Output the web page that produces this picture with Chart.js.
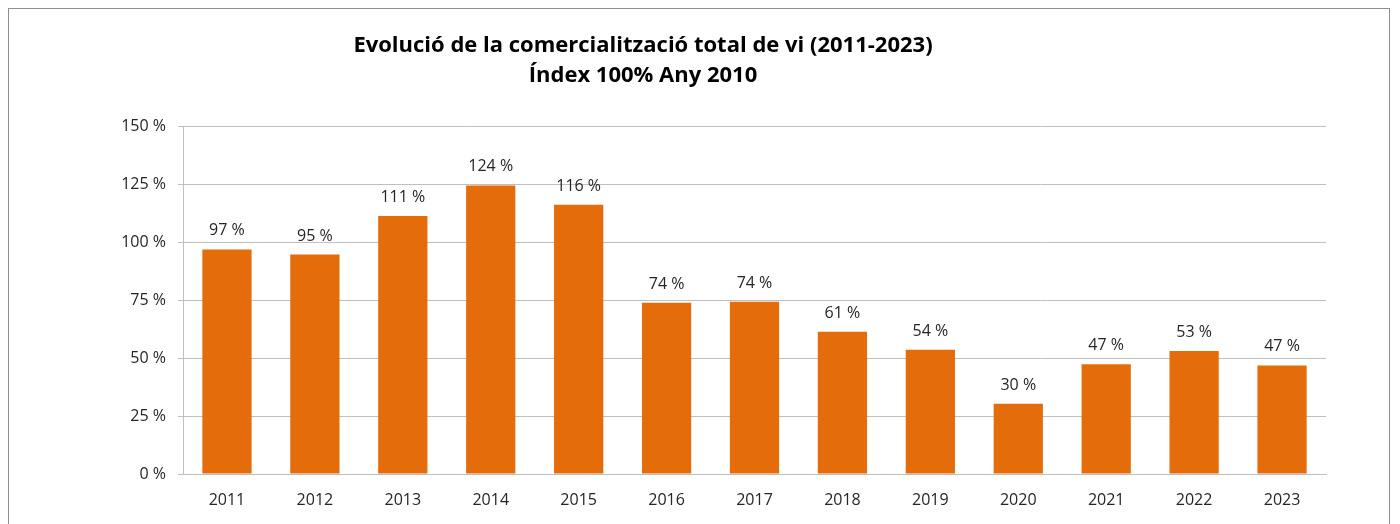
<!DOCTYPE html>
<html>
<head>
<meta charset="utf-8">
<script src="https://cdn.jsdelivr.net/npm/chart.js@4/dist/chart.umd.min.js"></script>
<style>
  html, body { margin: 0; padding: 0; background: #fff; overflow: hidden; }
  #wrap { position: relative; width: 1400px; height: 524px; }
  #frame { position: absolute; left: 8px; top: 8px; width: 1382px; height: 540px; border: 1px solid #8f8f8f; box-sizing: border-box; }
  #chart { position: absolute; left: 0; top: 0; }
</style>
</head>
<body>
<div id="wrap">
  <div id="frame"></div>
  <canvas id="chart" width="1400" height="524"></canvas>
</div>
<script>
const years = ['2011', '2012', '2013', '2014', '2015', '2016', '2017', '2018', '2019', '2020', '2021', '2022', '2023'];
const indexValues = [96.8, 94.6, 111.2, 124.4, 116.1, 73.8, 74.2, 61.3, 53.6, 30.3, 47.3, 53.0, 46.8];
const yTicks = [0, 25, 50, 75, 100, 125, 150];
const titleLines = ['Evolució de la comercialització total de vi (2011-2023)', 'Índex 100% Any 2010'];

const textColor = '#262626';
const gridColor = '#bfbfbf';
const barColor = '#e46c0a';

// title drawn a bit left of centre, like the original
const titlePlugin = {
    id: 'titleLines',
    afterDraw(chart) {
        const ctx = chart.ctx;
        ctx.save();
        ctx.fillStyle = '#000';
        ctx.font = 'bold 22px "Open Sans", sans-serif';
        ctx.textAlign = 'center';
        ctx.textBaseline = 'middle';
        titleLines.forEach((line, i) => {
            ctx.fillText(line, 643, 46 + i * 30);
        });
        ctx.restore();
    }
};

// value labels above each bar
const valueLabels = {
    id: 'valueLabels',
    afterDatasetsDraw(chart) {
        const ctx = chart.ctx;
        const meta = chart.getDatasetMeta(0);
        ctx.save();
        ctx.fillStyle = textColor;
        ctx.font = '16px "Open Sans", sans-serif';
        ctx.textAlign = 'center';
        ctx.textBaseline = 'alphabetic';
        meta.data.forEach((bar, i) => {
            ctx.fillText(Math.round(indexValues[i]) + '\u00a0%', bar.x, bar.y - 14);
        });
        ctx.restore();
    }
};

new Chart(document.getElementById('chart'), {
    type: 'bar',
    data: {
        labels: years,
        datasets: [{
            data: indexValues,
            backgroundColor: barColor,
            borderWidth: 0,
            barPercentage: 0.56,
            categoryPercentage: 1
        }]
    },
    options: {
        responsive: false,
        animation: false,
        layout: { padding: { top: 126, right: 74, left: 0, bottom: 0 } },
        plugins: {
            legend: { display: false },
            tooltip: { enabled: false },
            title: { display: false }
        },
        scales: {
            x: {
                grid: { display: false, drawTicks: false },
                border: { display: true, color: gridColor, width: 1 },
                ticks: { color: textColor, padding: 17, font: { family: '"Open Sans", sans-serif', size: 16 } },
                afterFit(scale) { scale.height = 50; }
            },
            y: {
                min: 0,
                max: 150,
                afterBuildTicks(scale) { scale.ticks = yTicks.map(v => ({ value: v })); },
                grid: { color: gridColor, lineWidth: 1, tickLength: 5 },
                border: { display: true, color: gridColor, width: 1 },
                ticks: {
                    color: textColor,
                    padding: 12,
                    font: { family: '"Open Sans", sans-serif', size: 16 },
                    callback: v => v + '\u00a0%'
                },
                afterFit(scale) { scale.width = 183; }
            }
        }
    },
    plugins: [titlePlugin, valueLabels]
});
</script>
</body>
</html>
